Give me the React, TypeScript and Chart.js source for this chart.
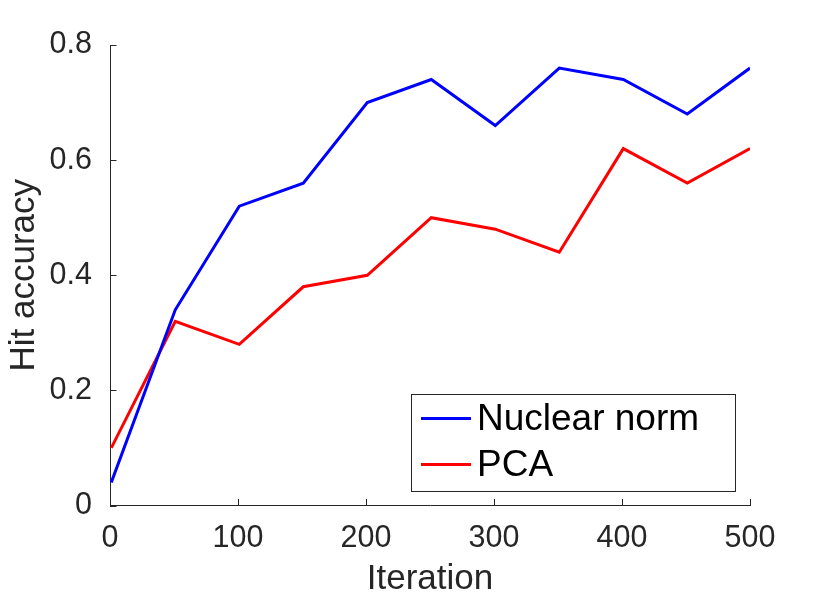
import { useEffect, useRef } from "react";
import { Chart, registerables } from "chart.js";

Chart.register(...registerables);

// iteration at which each accuracy was measured
const iterations = [1, 51, 101, 151, 201, 251, 301, 351, 401, 451, 500];
const nuclearNorm = [0.04, 0.34, 0.52, 0.56, 0.7, 0.74, 0.66, 0.76, 0.74, 0.68, 0.76];
const pca = [0.1, 0.32, 0.28, 0.38, 0.4, 0.5, 0.48, 0.44, 0.62, 0.56, 0.62];
const seriesNames = ["Nuclear norm", "PCA"];
const xTitle = "Iteration";
const yTitle = "Hit accuracy";

const FONT = "'Liberation Sans', Arial, Helvetica, sans-serif";
const AXIS = "#262626";

// MATLAB style tick marks pointing into the plot
const innerTicks = {
  id: "innerTicks",
  afterDraw(chart: any) {
    const { ctx, chartArea, scales } = chart;
    ctx.save();
    ctx.strokeStyle = AXIS;
    ctx.lineWidth = 1;
    scales.x.ticks.forEach((t: any) => {
      const px = Math.round(scales.x.getPixelForValue(t.value)) + 0.5;
      ctx.beginPath();
      ctx.moveTo(px, chartArea.bottom);
      ctx.lineTo(px, chartArea.bottom - 6.5);
      ctx.stroke();
    });
    scales.y.ticks.forEach((t: any) => {
      const py = Math.round(scales.y.getPixelForValue(t.value)) + 0.5;
      ctx.beginPath();
      ctx.moveTo(chartArea.left, py);
      ctx.lineTo(chartArea.left + 6.5, py);
      ctx.stroke();
    });
    ctx.restore();
  },
};

// boxed legend in the lower right corner of the plot
const boxLegend = {
  id: "boxLegend",
  afterDraw(chart: any) {
    const { ctx, chartArea } = chart;
    const w = 324;
    const h = 97;
    const x0 = chartArea.right - 15 - w;
    const y0 = chartArea.bottom - 15 - h;
    ctx.save();
    ctx.fillStyle = "#ffffff";
    ctx.fillRect(x0, y0, w, h);
    ctx.strokeStyle = AXIS;
    ctx.lineWidth = 1;
    ctx.strokeRect(Math.round(x0) + 0.5, Math.round(y0) + 0.5, w, h);
    ctx.font = `37px ${FONT}`;
    ctx.textBaseline = "middle";
    chart.data.datasets.forEach((ds: any, i: number) => {
      const cy = y0 + 25 + i * 46;
      ctx.strokeStyle = ds.borderColor;
      ctx.lineWidth = 3;
      ctx.beginPath();
      ctx.moveTo(x0 + 10, cy);
      ctx.lineTo(x0 + 60, cy);
      ctx.stroke();
      ctx.fillStyle = "#000000";
      ctx.fillText(ds.label, x0 + 66, cy + 1);
    });
    ctx.restore();
  },
};

export default function App() {
  const canvasRef = useRef<HTMLCanvasElement>(null);

  useEffect(() => {
    document.body.style.margin = "0";
    if (!canvasRef.current) return;
    const chart = new Chart(canvasRef.current, {
      type: "line",
      data: {
        datasets: [
          {
            label: seriesNames[0],
            data: iterations.map((x, i) => ({ x, y: nuclearNorm[i] })),
            borderColor: "#0000ff",
            borderWidth: 3,
            pointRadius: 0,
            tension: 0,
          },
          {
            label: seriesNames[1],
            data: iterations.map((x, i) => ({ x, y: pca[i] })),
            borderColor: "#ff0000",
            borderWidth: 3,
            pointRadius: 0,
            tension: 0,
          },
        ],
      },
      options: {
        responsive: false,
        animation: false,
        layout: { padding: { top: 45, right: 80, left: 0, bottom: 0 } },
        plugins: {
          legend: { display: false },
          tooltip: { enabled: false },
        },
        scales: {
          x: {
            type: "linear",
            min: 0,
            max: 500,
            afterFit: (s: any) => {
              s.height = 94.5;
            },
            ticks: {
              stepSize: 100,
              color: AXIS,
              padding: 15,
              maxRotation: 0,
              font: { family: FONT, size: 30.5 },
            },
            grid: { display: true, drawOnChartArea: false, drawTicks: false },
            border: { display: true, color: AXIS, width: 1 },
            title: {
              display: true,
              text: xTitle,
              color: AXIS,
              font: { family: FONT, size: 35 },
              padding: { top: 0, bottom: 0 },
            },
          },
          y: {
            min: 0,
            max: 0.8,
            afterFit: (s: any) => {
              s.width = 110;
            },
            ticks: {
              stepSize: 0.2,
              color: AXIS,
              padding: 18,
              font: { family: FONT, size: 30.5 },
              callback: (v: any) => (v === 0 ? "0" : Number(v).toFixed(1)),
            },
            grid: { display: true, drawOnChartArea: false, drawTicks: false },
            border: { display: true, color: AXIS, width: 1 },
            title: {
              display: true,
              text: yTitle,
              color: AXIS,
              font: { family: FONT, size: 35 },
              padding: { top: 3, bottom: 0 },
            },
          },
        },
      },
      plugins: [innerTicks, boxLegend],
    });
    return () => {
      chart.destroy();
    };
  }, []);

  return (
    <div style={{ width: 830, height: 600, background: "#ffffff" }}>
      <canvas ref={canvasRef} width={830} height={600} />
    </div>
  );
}
